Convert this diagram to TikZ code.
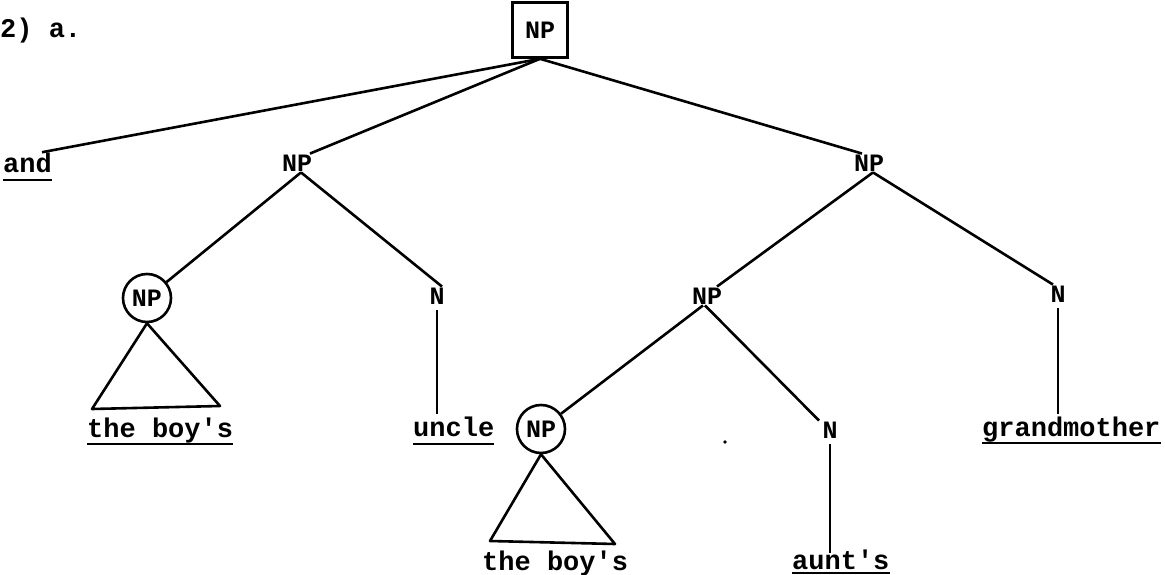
\documentclass[tikz,border=0pt]{standalone}
\usepackage{fontspec}
\setmonofont{Liberation Mono}
\begin{document}
\begin{tikzpicture}[x=1pt,y=-1pt,
  lbl/.style={font=\fontsize{25}{25}\selectfont\ttfamily\bfseries, inner sep=1pt},
  word/.style={font=\fontsize{27}{27}\selectfont\ttfamily\bfseries, inner sep=0pt, anchor=base west},
  branch/.style={line width=2.6pt},
  ul/.style={line width=2.4pt},
  circ/.style={lbl, draw, circle, line width=2.6pt, minimum size=48pt, inner sep=0pt},
  boxed/.style={lbl, draw, rectangle, line width=2.6pt, minimum width=55pt, minimum height=55pt}]
\useasboundingbox (0,0) rectangle (1165,575);

% heading
\node[word] (head) at (0,38) {2) a.};

% nodes
\node[boxed] (root) at (540,30) {NP};
\node[lbl] (np1) at (297,163) {NP};
\node[lbl] (np2) at (869,163) {NP};
\node[circ] (c1) at (147,298) {NP};
\node[lbl] (n1) at (437,296) {N};
\node[lbl] (np3) at (707,296) {NP};
\node[lbl] (n3) at (1058,294) {N};
\node[circ] (c2) at (541,429) {NP};
\node[lbl] (n2) at (830,430) {N};

% words
\node[word] (and) at (3,172) {and};
\node[word] (boys1) at (87,437) {the boy's};
\node[word] (uncle) at (413,436) {uncle};
\node[word] (grand) at (982,436) {grandmother};
\node[word] (boys2) at (482,570) {the boy's};
\node[word] (aunt) at (792,569) {aunt's};

% underlines
\foreach \w/\d in {and/8, boys1/7, uncle/8, grand/7, aunt/4}
  \draw[ul] ([yshift=-\d pt]\w.base west) -- ([yshift=-\d pt]\w.base east);

% branches
\draw[branch] (root.south) -- ([xshift=-10pt]and.north east);
\draw[branch] (root.south) -- ([xshift=13pt]np1.north);
\draw[branch] (root.south) -- ([xshift=-7pt]np2.north);

\draw[branch] ([xshift=4pt]np1.south) -- (c1);
\draw[branch] ([xshift=4pt]np1.south) -- ([xshift=5pt]n1.north);
\draw[branch] ([xshift=4pt]np2.south) -- ([xshift=10pt]np3.north);
\draw[branch] ([xshift=4pt]np2.south) -- ([xshift=-5pt]n3.north);

\draw[branch] ([xshift=-4pt]np3.south) -- (c2);
\draw[branch] ([xshift=-2pt]np3.south) -- ([xshift=-11pt]n2.north);

\draw[branch, shorten <=5pt] (n1.south) -- ([yshift=2pt]n1.south |- uncle.north);
\draw[branch, shorten <=5pt] (n3.south) -- ([yshift=2pt]n3.south |- grand.north);
\draw[branch, line width=1.8pt, shorten <=5pt] (n2.south) -- ([yshift=-4pt]n2.south |- aunt.north);

% triangles
\coordinate (t1l) at (92,409);
\coordinate (t1r) at (220,406);
\draw[branch, line join=round] (c1.south) -- (t1l) -- (t1r) -- cycle;
\coordinate (t2l) at (490,541);
\coordinate (t2r) at (615,544);
\draw[branch, line join=round] (c2.south) -- (t2l) -- (t2r) -- cycle;

% stray speck
\fill (725,442) circle (1.8pt);
\end{tikzpicture}
\end{document}
